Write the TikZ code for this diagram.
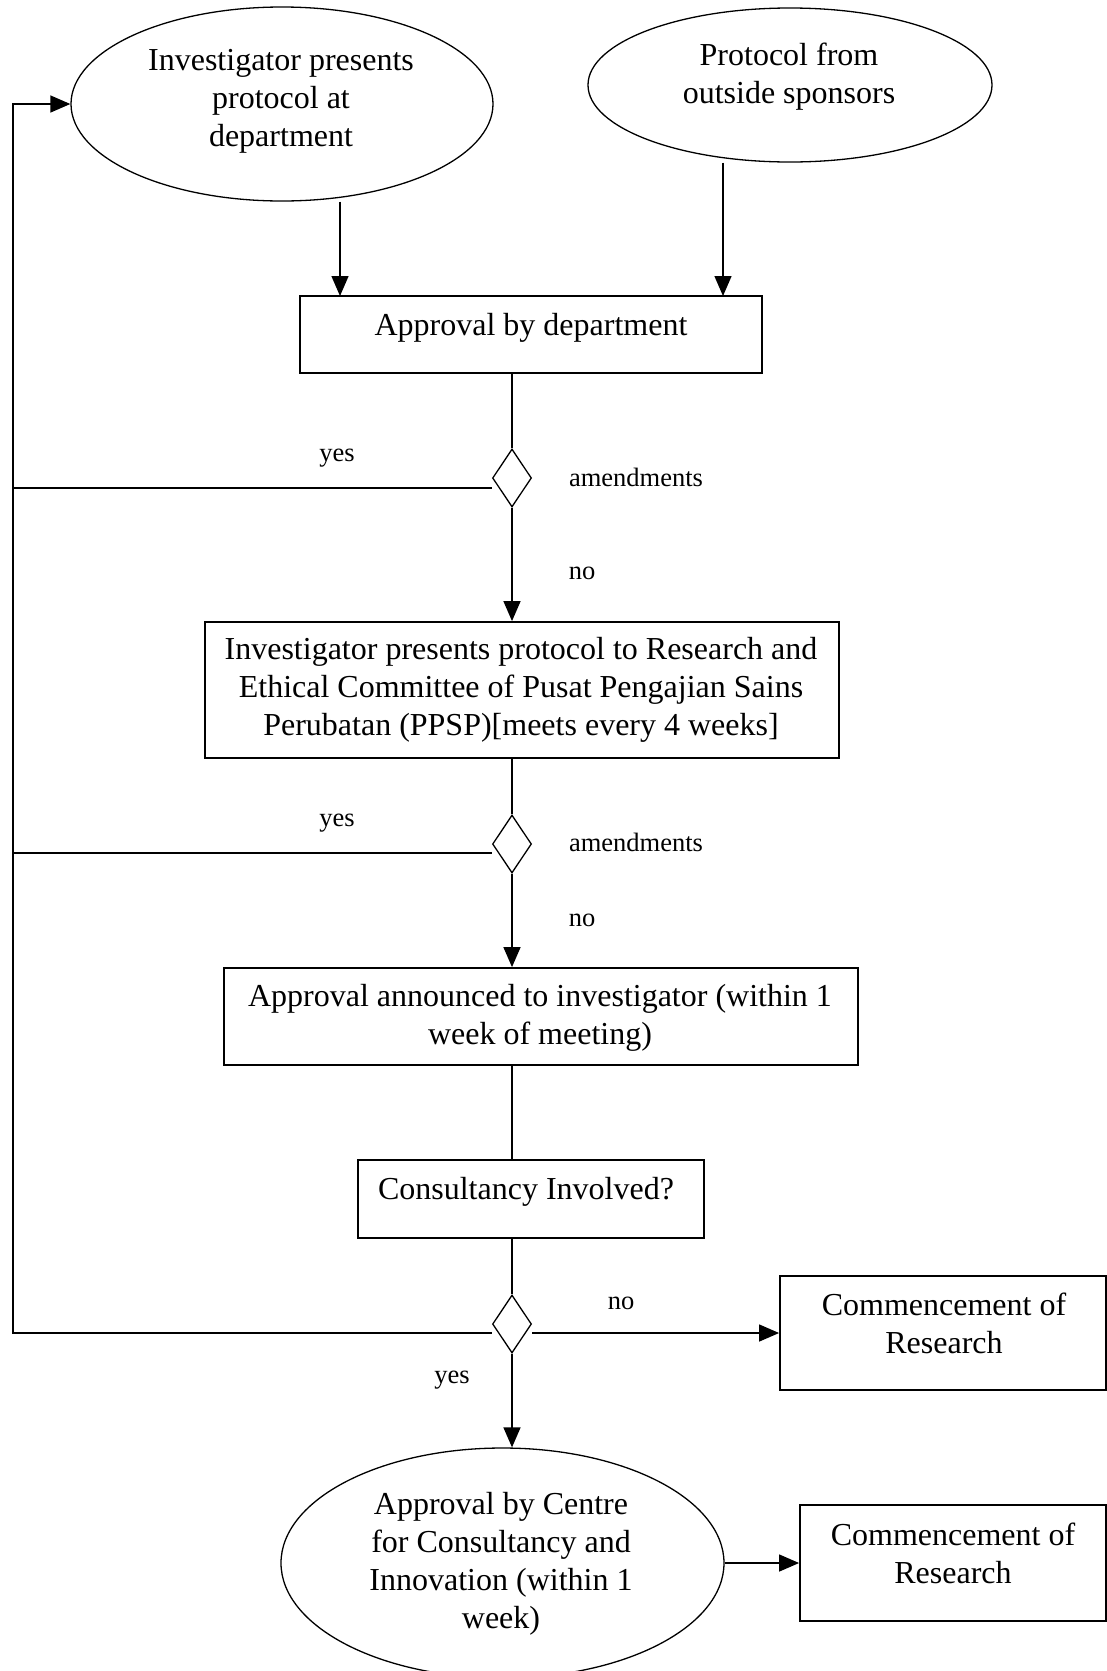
\documentclass[tikz,border=0pt]{standalone}
\usepackage{fontspec}
\setmainfont{Liberation Serif}
\usetikzlibrary{shapes.geometric,arrows.meta}
\begin{document}
\begin{tikzpicture}[x=1pt,y=-1pt,
  box/.style={draw,line width=1.8pt,rectangle,inner sep=0pt},
  oval/.style={draw,line width=1.3pt,ellipse,inner sep=0pt},
  dia/.style={draw,line width=1.3pt,diamond,inner sep=0pt,minimum width=39pt,minimum height=58pt},
  txt/.style={font=\fontsize{32}{38}\selectfont,align=center,inner sep=0pt},
  lbl/.style={font=\fontsize{26.5}{31}\selectfont,inner sep=0pt},
  conn/.style={line width=1.4pt},
  arr/.style={line width=1.4pt,-{Triangle[length=20pt,width=17pt]}},
]
\useasboundingbox (0,0) rectangle (1107,1671);
\fill[white] (0,0) rectangle (1107,1671);

% shapes
\node[oval,minimum width=422pt,minimum height=194pt] (e1) at (282,104) {};
\node[txt] (e1t) at (281,101.5) {Investigator presents\\protocol at\\department};
\node[oval,minimum width=404pt,minimum height=154pt] (e2) at (790,85) {};
\node[txt] (e2t) at (789,77) {Protocol from\\outside sponsors};

\node[box,minimum width=462pt,minimum height=77pt] (b1) at (531,334.5) {};
\node[txt] (b1t) at (531,328) {Approval by department};

\node[dia] (d1) at (512,478) {};

\node[box,minimum width=634pt,minimum height=136pt] (b2) at (522,690) {};
\node[txt] (b2t) at (521,690) {Investigator presents protocol to Research and\\Ethical Committee of Pusat Pengajian Sains\\Perubatan (PPSP)[meets every 4 weeks]};

\node[dia] (d2) at (512,844) {};

\node[box,minimum width=634pt,minimum height=97pt] (b3) at (541,1016.5) {};
\node[txt] (b3t) at (540,1017.5) {Approval announced to investigator (within 1\\week of meeting)};

\node[box,minimum width=346pt,minimum height=78pt] (b4) at (531,1199) {};
\node[txt] (b4t) at (526,1192) {Consultancy Involved?};

\node[dia] (d3) at (512,1324) {};

\node[box,minimum width=326pt,minimum height=114pt] (b5) at (943,1333) {};
\node[txt] (b5t) at (944,1323.5) {Commencement of\\Research};

\node[oval,minimum width=443pt,minimum height=230pt] (e3) at (502.5,1563) {};
\node[txt] (e3t) at (501,1564) {Approval by Centre\\for Consultancy and\\Innovation (within 1\\week)};

\node[box,minimum width=306pt,minimum height=116pt] (b6) at (953,1563) {};
\node[txt] (b6t) at (953,1553.5) {Commencement of\\Research};

% helper coordinates
\coordinate (lp) at (13,104);
\coordinate (b1a) at (340,296);
\coordinate (b1b) at (723,296);
\coordinate (col) at (512,0);

% connectors
\draw[arr] (e1.south -| b1a) -- (b1a);
\draw[arr] (e2.south -| b1b) -- (b1b);
\draw[conn] (b1.south -| col) -- (d1.north);
\draw[arr] (d1.south) -- (b2.north -| col);
\draw[conn] (b2.south -| col) -- (d2.north);
\draw[arr] (d2.south) -- (b3.north -| col);
\draw[conn] (b3.south -| col) -- (b4.north -| col);
\draw[conn] (b4.south -| col) -- (d3.north);
\draw[arr] (d3.south) -- (e3.north -| col);
\draw[arr] ([yshift=-9pt]d3.east) -- (b5.west);
\draw[arr] (e3.east) -- (b6.west);

% feedback loops
\draw[conn,line width=1.8pt] ([yshift=-10pt]d1.west) -- ([yshift=-10pt]d1.west -| lp);
\draw[conn,line width=1.8pt] ([yshift=-9pt]d2.west) -- ([yshift=-9pt]d2.west -| lp);
\draw[arr] ([yshift=-9pt]d3.west) -- ([yshift=-9pt]d3.west -| lp) -- (lp) -- (e1.west);

% labels
\node[lbl] (y1) at (337,458) {yes};
\node[lbl] (a1) at (636,477) {amendments};
\node[lbl] (n1) at (582,573) {no};
\node[lbl] (y2) at (337,823) {yes};
\node[lbl] (a2) at (636,842) {amendments};
\node[lbl] (n2) at (582,920) {no};
\node[lbl] (n3) at (621,1303) {no};
\node[lbl] (y3) at (452,1380) {yes};
\end{tikzpicture}
\end{document}
